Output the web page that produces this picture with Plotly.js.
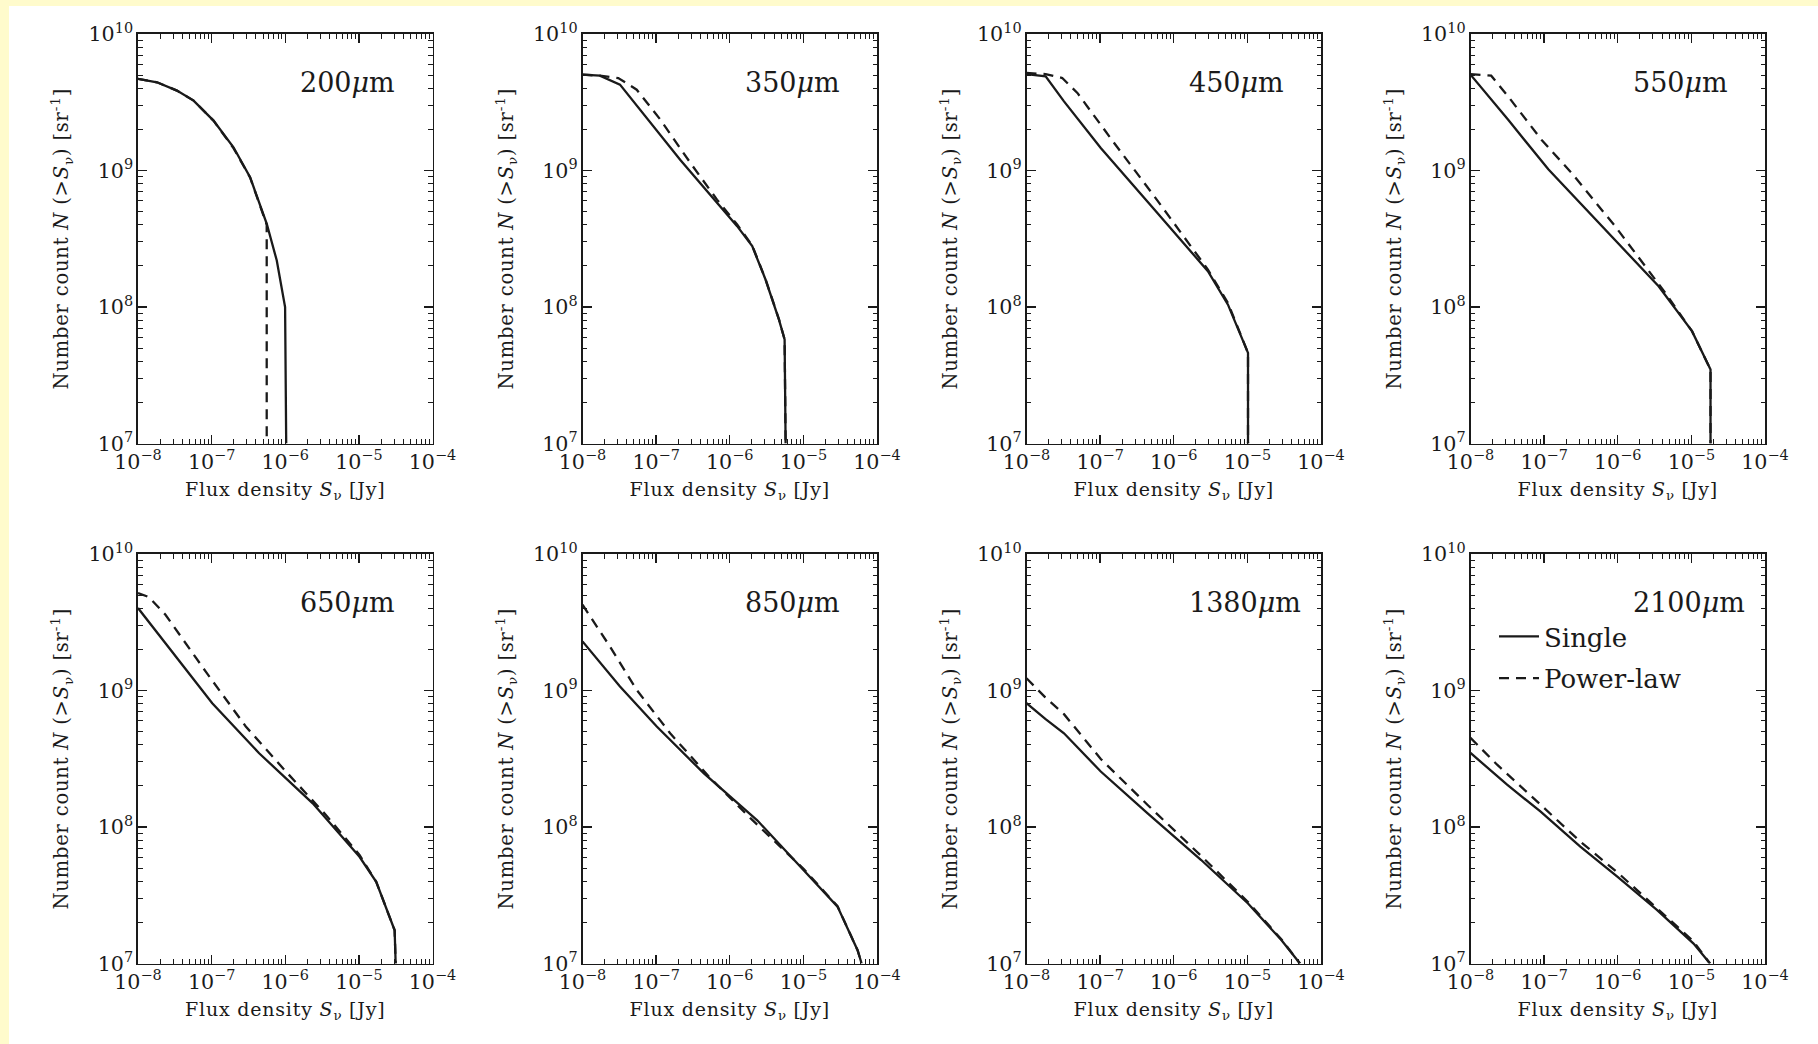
<!DOCTYPE html>
<html>
<head>
<meta charset="utf-8">
<script src="https://cdn.plot.ly/plotly-3.0.1.min.js"></script>
<style>
html,body{margin:0;padding:0;background:#fffbcc;}
#chart{width:1818px;height:1044px;}
text[class$="title"]{letter-spacing:0.8px;}
</style>
</head>
<body>
<div id="chart"></div>
<script>
// Panel labels (wavelengths in micron)
const wavelengths = ['200', '350', '450', '550', '650', '850', '1380', '2100'];
const seriesNames = ['Single', 'Power-law'];

// ---- 200 micron ----
const s200Flux  = [1.0e-8, 1.81e-8, 3.38e-8, 5.69e-8, 1.06e-7, 1.98e-7, 3.33e-7, 5.61e-7, 7.67e-7, 9.95e-7, 1.03e-6];
const s200Count = [4.69e9, 4.43e9, 3.85e9, 3.25e9, 2.32e9, 1.48e9, 8.93e8, 4.07e8, 2.19e8, 1.0e8, 1.0e7];
const p200Flux  = [1.0e-8, 1.81e-8, 3.38e-8, 5.69e-8, 1.06e-7, 1.98e-7, 3.33e-7, 5.6e-7, 5.6e-7];
const p200Count = [4.69e9, 4.43e9, 3.85e9, 3.25e9, 2.32e9, 1.46e9, 8.9e8, 4.0e8, 1.0e7];

// ---- 350 micron ----
const s350Flux  = [1.0e-8, 1.72e-8, 3.23e-8, 2.12e-7, 1.26e-6, 2.02e-6, 3.06e-6, 4.66e-6, 5.56e-6, 5.74e-6];
const s350Count = [5.04e9, 4.95e9, 4.26e9, 1.20e9, 3.91e8, 2.79e8, 1.59e8, 8.09e7, 5.78e7, 1.0e7];
const p350Flux  = [1.0e-8, 1.72e-8, 3.06e-8, 5.45e-8, 1.14e-7, 2.91e-7, 6.71e-7, 1.26e-6, 2.02e-6, 3.06e-6, 4.66e-6, 5.56e-6, 5.74e-6];
const p350Count = [5.04e9, 4.95e9, 4.76e9, 3.91e9, 2.36e9, 1.14e9, 6.12e8, 4.02e8, 2.82e8, 1.60e8, 8.13e7, 5.78e7, 1.0e7];

// ---- 450 micron ----
const s450Flux  = [1.0e-8, 1.82e-8, 3.23e-8, 1.02e-7, 5.45e-7, 2.91e-6, 5.45e-6, 1.02e-5, 1.02e-5];
const s450Count = [5.09e9, 4.90e9, 3.21e9, 1.46e9, 5.18e8, 1.83e8, 1.04e8, 4.61e7, 1.0e7];
const p450Flux  = [1.0e-8, 1.82e-8, 3.06e-8, 4.91e-8, 1.55e-7, 5.45e-7, 2.91e-6, 5.45e-6, 1.02e-5, 1.02e-5];
const p450Count = [5.18e9, 5.09e9, 4.76e9, 3.70e9, 1.59e9, 6.47e8, 1.88e8, 1.07e8, 4.61e7, 1.0e7];

// ---- 550 micron ----
const s550Flux  = [1.0e-8, 3.23e-8, 1.14e-7, 6.05e-7, 3.59e-6, 1.02e-5, 1.82e-5, 1.82e-5];
const s550Count = [5.04e9, 2.36e9, 1.02e9, 3.91e8, 1.42e8, 6.65e7, 3.48e7, 1.0e7];
const p550Flux  = [1.0e-8, 1.91e-8, 3.23e-8, 9.20e-8, 2.36e-7, 9.20e-7, 4.42e-6, 1.02e-5, 1.82e-5, 1.82e-5];
const p550Count = [5.09e9, 4.95e9, 3.50e9, 1.68e9, 9.59e8, 3.91e8, 1.27e8, 6.65e7, 3.48e7, 1.0e7];

// ---- 650 micron ----
const s650Flux  = [1.0e-8, 3.23e-8, 1.02e-7, 4.42e-7, 2.36e-6, 1.02e-5, 1.72e-5, 3.06e-5, 3.16e-5];
const s650Count = [4.02e9, 1.77e9, 8.07e8, 3.47e8, 1.49e8, 6.05e7, 3.97e7, 1.75e7, 1.0e7];
const p650Flux  = [1.0e-8, 1.40e-8, 2.36e-8, 8.28e-8, 2.91e-7, 1.02e-6, 3.59e-6, 1.02e-5, 1.72e-5, 3.06e-5, 3.16e-5];
const p650Count = [5.18e9, 4.84e9, 3.59e9, 1.38e9, 5.45e8, 2.55e8, 1.22e8, 6.24e7, 3.97e7, 1.75e7, 1.0e7];

// ---- 850 micron ----
const s850Flux  = [1.0e-8, 1.8e-8, 3.23e-8, 1.02e-7, 4.42e-7, 2.36e-6, 1.02e-5, 2.91e-5, 5.45e-5, 6.18e-5];
const s850Count = [2.29e9, 1.55e9, 1.07e9, 5.45e8, 2.48e8, 1.12e8, 4.84e7, 2.61e7, 1.25e7, 1.0e7];
const p850Flux  = [1.0e-8, 2.36e-8, 5.45e-8, 1.55e-7, 5.45e-7, 1.91e-6, 6.05e-6, 1.02e-5, 2.91e-5, 5.45e-5, 6.18e-5];
const p850Count = [4.25e9, 2.10e9, 1.01e9, 4.86e8, 2.28e8, 1.16e8, 6.41e7, 4.90e7, 2.63e7, 1.25e7, 1.0e7];

// ---- 1380 micron ----
const s1380Flux  = [1.0e-8, 1.8e-8, 3.23e-8, 1.02e-7, 4.42e-7, 2.36e-6, 1.02e-5, 2.91e-5, 5.18e-5];
const s1380Count = [8.07e8, 6.2e8, 4.86e8, 2.55e8, 1.26e8, 5.73e7, 2.75e7, 1.48e7, 1.0e7];
const p1380Flux  = [1.0e-8, 1.8e-8, 3.23e-8, 1.02e-7, 4.42e-7, 2.36e-6, 1.02e-5, 2.91e-5, 5.18e-5];
const p1380Count = [1.23e9, 8.9e8, 6.71e8, 3.15e8, 1.45e8, 6.14e7, 2.82e7, 1.50e7, 1.0e7];

// ---- 2100 micron ----
const s2100Flux  = [1.0e-8, 3.14e-8, 8.89e-8, 3.10e-7, 9.77e-7, 3.40e-6, 1.07e-5, 1.79e-5];
const s2100Count = [3.49e8, 2.04e8, 1.30e8, 7.19e7, 4.34e7, 2.47e7, 1.40e7, 1.0e7];
const p2100Flux  = [1.0e-8, 2.30e-8, 8.89e-8, 3.10e-7, 1.08e-6, 3.40e-6, 1.07e-5, 1.79e-5];
const p2100Count = [4.50e8, 2.86e8, 1.46e8, 7.83e7, 4.46e7, 2.54e7, 1.45e7, 1.0e7];

const panelData = [
  [s200Flux, s200Count, p200Flux, p200Count],
  [s350Flux, s350Count, p350Flux, p350Count],
  [s450Flux, s450Count, p450Flux, p450Count],
  [s550Flux, s550Count, p550Flux, p550Count],
  [s650Flux, s650Count, p650Flux, p650Count],
  [s850Flux, s850Count, p850Flux, p850Count],
  [s1380Flux, s1380Count, p1380Flux, p1380Count],
  [s2100Flux, s2100Count, p2100Flux, p2100Count]
];

// ---- layout geometry (pixels) ----
const W = 1818, H = 1044;
const colLeft = [138, 582.5, 1026.5, 1470.5];
const panelW = 294.5;
const rowTop = [34, 554];
const panelH = 409.5;

const FONT = 'DejaVu Serif';
const INK = '#1a1a1a';

const traces = [];
const layout = {
  width: W, height: H,
  margin: {l: 0, r: 0, t: 0, b: 0},
  paper_bgcolor: '#fffbcc',
  plot_bgcolor: '#ffffff',
  showlegend: true,
  legend: {
    x: 1494 / W, y: 1 - 613 / H, xanchor: 'left', yanchor: 'top',
    bgcolor: 'rgba(0,0,0,0)', borderwidth: 0,
    font: {family: FONT, size: 26, color: INK},
    itemwidth: 40, tracegroupgap: 5, traceorder: 'grouped'
  },
  shapes: [{
    type: 'rect', xref: 'paper', yref: 'paper', layer: 'below',
    x0: 9 / W, x1: 1, y0: 0, y1: 1 - 6 / H,
    fillcolor: '#ffffff', line: {width: 0}
  }],
  annotations: []
};

function axisBase() {
  return {
    type: 'log', showgrid: false, zeroline: false,
    showline: true, linecolor: INK, linewidth: 1.6, mirror: 'allticks',
    ticks: 'inside', ticklen: 9, tickwidth: 1.3, tickcolor: INK,
    dtick: 1, exponentformat: 'power', showexponent: 'all',
    tickfont: {family: FONT, size: 16.5, color: INK},
    minor: {ticks: 'inside', ticklen: 4.5, tickwidth: 1, tickcolor: INK, dtick: 'D1', showgrid: false},
    fixedrange: true
  };
}

panelData.forEach((d, i) => {
  const n = i + 1;
  const xa = n === 1 ? 'x' : 'x' + n;
  const ya = n === 1 ? 'y' : 'y' + n;
  const row = Math.floor(i / 4), col = i % 4;
  const L = colLeft[col], T = rowTop[row];

  const xaxis = axisBase();
  xaxis.range = [-8, -4];
  xaxis.domain = [L / W, (L + panelW) / W];
  xaxis.anchor = ya;
  xaxis.title = {text: 'Flux density <i>S</i><sub>ν</sub> [Jy]', font: {family: FONT, size: 19, color: INK}, standoff: 9};

  const yaxis = axisBase();
  yaxis.range = [7, 10];
  yaxis.domain = [1 - (T + panelH) / H, 1 - T / H];
  yaxis.anchor = xa;
  yaxis.title = {text: 'Number count <i>N</i> (&gt;<i>S</i><sub>ν</sub>) [sr<sup>-1</sup>]', font: {family: FONT, size: 19.5, color: INK}, standoff: 14};

  layout['xaxis' + (n === 1 ? '' : n)] = xaxis;
  layout['yaxis' + (n === 1 ? '' : n)] = yaxis;

  const showLeg = (n === 8);
  traces.push({
    type: 'scatter', mode: 'lines', x: d[0], y: d[1], xaxis: xa, yaxis: ya,
    name: seriesNames[0], showlegend: showLeg, legendgroup: 'g1',
    line: {color: INK, width: 2.3, dash: 'solid'}, hoverinfo: 'skip'
  });
  traces.push({
    type: 'scatter', mode: 'lines', x: d[2], y: d[3], xaxis: xa, yaxis: ya,
    name: seriesNames[1], showlegend: showLeg, legendgroup: 'g2',
    line: {color: INK, width: 2.3, dash: '10px,7px'}, hoverinfo: 'skip'
  });

  layout.annotations.push({
    xref: xa + ' domain', yref: ya + ' domain',
    x: 160 / panelW, y: 1 - 48 / panelH, xanchor: 'left', yanchor: 'middle',
    text: wavelengths[i] + '<i>μ</i>m', showarrow: false,
    font: {family: FONT, size: 27, color: INK}
  });
});

Plotly.newPlot('chart', traces, layout, {displayModeBar: false, staticPlot: true});
</script>
</body>
</html>
